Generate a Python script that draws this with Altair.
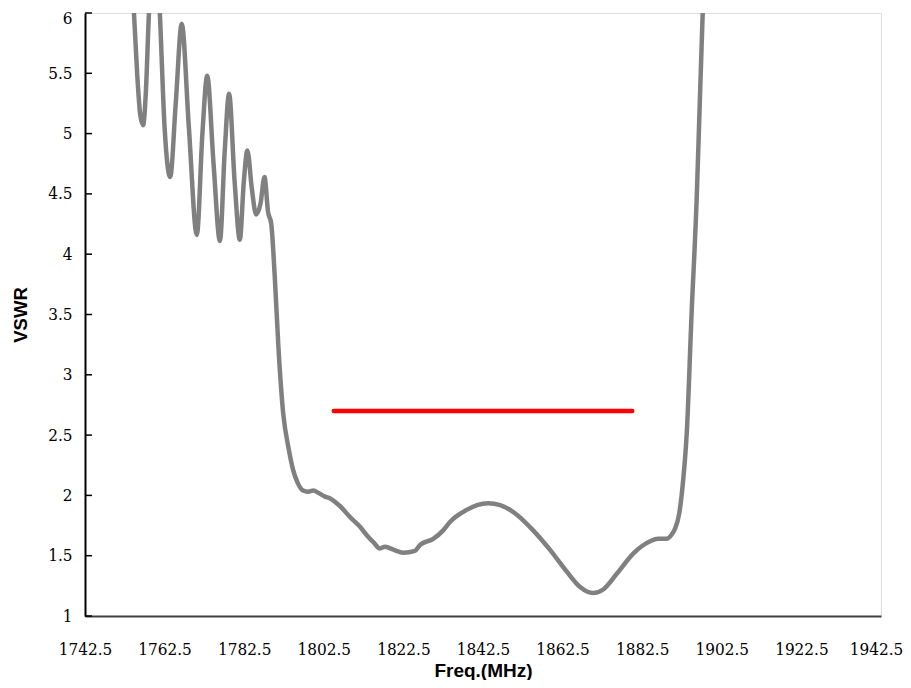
import altair as alt
import pandas as pd

freq = [1754.0, 1754.8, 1755.6, 1756.4, 1757.1, 1757.8, 1758.5, 1759.3, 1760.0, 1760.6,
        1761.3, 1762.5, 1763.9, 1765.3, 1766.8, 1768.6, 1770.6, 1772.0, 1773.2, 1774.8,
        1776.4, 1777.6, 1778.7, 1780.1, 1781.4, 1782.4, 1783.3, 1784.4, 1785.5, 1786.6,
        1787.6, 1788.5, 1789.3, 1790.2, 1791.1, 1792.3, 1793.6, 1794.8, 1796.0, 1797.3,
        1798.5, 1799.9, 1801.2, 1802.8, 1804.1, 1806.6, 1809.1, 1811.6, 1813.3, 1815.0,
        1816.6, 1817.9, 1820.0, 1822.5, 1825.4, 1826.7, 1830.0, 1832.5, 1834.2, 1838.4,
        1841.0, 1843.8, 1846.8, 1851.0, 1855.1, 1859.3, 1863.5, 1866.9, 1870.2, 1872.7,
        1876.1, 1880.3, 1884.5, 1886.5, 1888.6, 1890.0, 1890.7, 1891.8, 1892.8, 1893.7,
        1894.9, 1896.2, 1897.0, 1897.7, 1898.2]
vswr = [6.6, 6.0, 5.5, 5.15, 5.07, 5.35, 5.95, 6.5, 6.7, 6.45,
        6.0, 5.05, 4.64, 5.25, 5.91, 5.05, 4.16, 5.0, 5.48, 4.75,
        4.11, 4.85, 5.33, 4.6, 4.12, 4.6, 4.86, 4.55, 4.33, 4.42,
        4.64, 4.35, 4.25, 3.8, 3.23, 2.68, 2.40, 2.21, 2.10, 2.04,
        2.03, 2.04, 2.02, 1.99, 1.975, 1.91, 1.82, 1.74, 1.67, 1.61,
        1.56, 1.575, 1.55, 1.525, 1.54, 1.59, 1.64, 1.71, 1.78, 1.88,
        1.92, 1.935, 1.92, 1.84, 1.71, 1.55, 1.37, 1.24, 1.19, 1.22,
        1.35, 1.52, 1.62, 1.64, 1.64, 1.68, 1.72, 1.85, 2.13, 2.52,
        3.50, 4.47, 5.29, 6.0, 6.5]

spec_freq = [1805, 1880]
spec_vswr = [2.7, 2.7]

x_ticks = [1742.5, 1762.5, 1782.5, 1802.5, 1822.5, 1842.5, 1862.5, 1882.5, 1902.5, 1922.5, 1942.5]
y_ticks = [1, 1.5, 2, 2.5, 3, 3.5, 4, 4.5, 5, 5.5, 6]

df = pd.DataFrame({"freq": freq, "vswr": vswr})
spec = pd.DataFrame({"freq": spec_freq, "vswr": spec_vswr})
ticks_df = pd.DataFrame({"vswr": y_ticks})

SERIF = "DejaVu Serif Condensed, DejaVu Serif, serif"
SANS = "Liberation Sans, Arial, Helvetica, sans-serif"

xscale = alt.Scale(domain=[1742.5, 1942.5], nice=False, zero=False)
yscale = alt.Scale(domain=[1, 6], nice=False, zero=False)

xaxis = alt.Axis(values=x_ticks, format=".1f", title="Freq.(MHz)", grid=False,
                 ticks=False, domainColor="#404040", domainWidth=2,
                 labelFont=SERIF, labelFontSize=17, labelColor="#000000",
                 labelPadding=25, labelFlush=False,
                 labelOffset={"condition": {"test": "datum.value == 1942.5", "value": -5}, "value": 0},
                 titleFont=SANS, titleFontSize=19, titleFontWeight="bold",
                 titleColor="#000000", titlePadding=4)
yaxis = alt.Axis(values=y_ticks, format=".2~f", title="VSWR", grid=False,
                 ticks=False, domainColor="#000000", domainWidth=2,
                 labelFont=SERIF, labelFontSize=17, labelColor="#000000",
                 labelPadding=13, labelFlush=False,
                 labelOffset={"condition": {"test": "datum.value == 6", "value": 5}, "value": 0},
                 titleFont=SANS, titleFontSize=18.5, titleFontWeight="bold",
                 titleColor="#000000", titlePadding=17)

line = alt.Chart(df).mark_line(color="#808080", strokeWidth=4.5, interpolate="monotone",
                               clip=True).encode(
    x=alt.X("freq:Q", scale=xscale, axis=xaxis),
    y=alt.Y("vswr:Q", scale=yscale, axis=yaxis),
)

inner_ticks = alt.Chart(ticks_df).mark_rule(color="#000000", strokeWidth=1.5).encode(
    x=alt.value(0), x2=alt.value(7),
    y=alt.Y("vswr:Q", scale=yscale),
)

red = alt.Chart(spec).mark_line(color="#FF0000", strokeWidth=4.5, strokeCap="round").encode(
    x=alt.X("freq:Q", scale=xscale),
    y=alt.Y("vswr:Q", scale=yscale),
)

chart = (line + inner_ticks + red).properties(
    width=796, height=603,
    autosize=alt.AutoSizeParams(type="none"),
    padding={"left": 77, "top": 5, "right": 22, "bottom": 64},
).configure_view(stroke="#888888", strokeWidth=2.5).configure(background="white")

chart.save("out.html", embed_options={"renderer": "svg", "actions": False})
